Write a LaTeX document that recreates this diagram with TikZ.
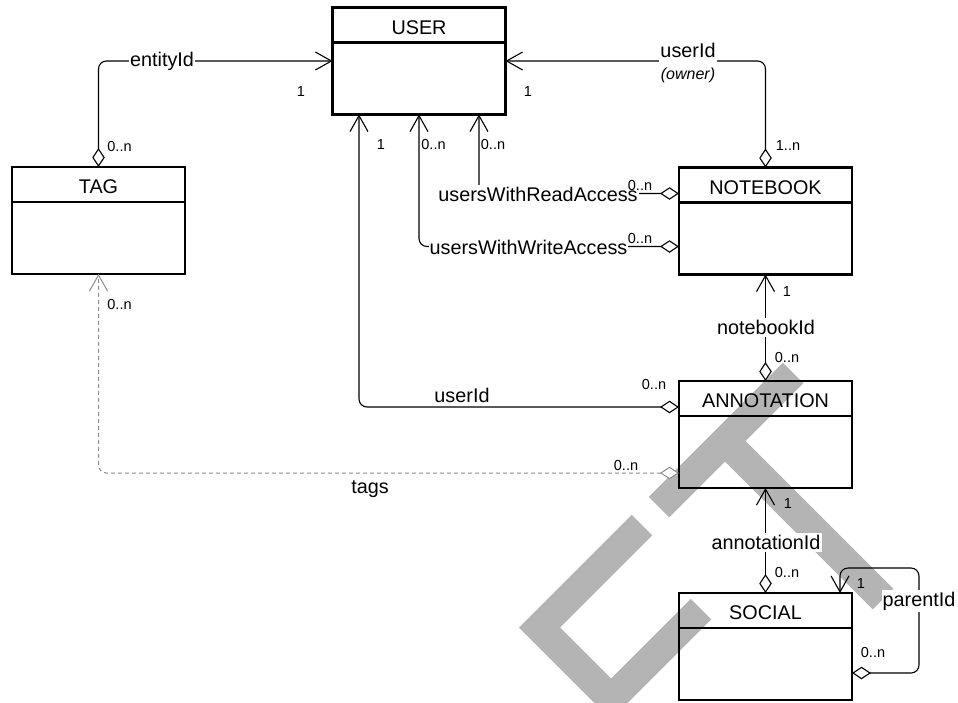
\documentclass[tikz,border=0pt]{standalone}
\usepackage{fontspec}
\setmainfont{Liberation Sans}
\usetikzlibrary{arrows.meta,calc}

\definecolor{stampgray}{RGB}{180,180,180}
\definecolor{dashgray}{RGB}{140,140,140}

\tikzset{
  entity/.style={draw=black, line width=2.4pt, minimum width=173pt,
    minimum height=107pt, outer sep=0pt, inner sep=0pt},
  divider/.style={draw=black, line width=2.2pt},
  title/.style={font=\fontsize{19.8}{22}\selectfont, inner sep=0pt},
  lbl/.style={font=\fontsize{19.8}{22}\selectfont, fill=white,
    inner xsep=1pt, inner ysep=2pt},
  plainlbl/.style={font=\fontsize{19.8}{22}\selectfont, inner sep=0pt},
  mult/.style={font=\fontsize{14.5}{16}\selectfont, inner sep=0pt},
  assoc/.style={draw=black, line width=1.1pt, rounded corners=8pt,
    {Diamond[fill=white,length=19pt,width=12.5pt]}-{Straight Barb[length=16pt,width=18pt]}},
  weakassoc/.style={assoc, draw=dashgray, line width=1pt,
    dash pattern=on 4pt off 3pt},
  stamp/.style={draw=stampgray, line width=29pt, line cap=butt, line join=miter}
}

\begin{document}
\begin{tikzpicture}[x=1pt,y=-1pt]
\useasboundingbox (0,0) rectangle (958,702);

% grey stamp letters behind the diagram
\begin{scope}
  \clip (0,0) rectangle (958,702);
  \draw[stamp] (793,373) -- (659,507);
  \draw[stamp] (725,441) -- (883,599);
  \draw[stamp] (642,525) -- (539.5,627.5) -- (611,699) -- (701,609);
\end{scope}

% entities
\node[entity] (user)       at (419,61)      {};
\node[entity] (tag)        at (98.5,220.5)  {};
\node[entity] (notebook)   at (765.5,221)   {};
\node[entity] (annotation) at (765.5,434.5) {};
\node[entity] (social)     at (765.5,646.5) {};

\foreach \n/\t in {user/USER, tag/TAG, notebook/NOTEBOOK,
                   annotation/ANNOTATION, social/SOCIAL}{
  \draw[divider] ($(\n.north west)+(0,35)$) -- ($(\n.north east)+(0,35)$);
  \node[title] (\n-title) at ($(\n.north)+(0,20)$) {\t};
}

% anchor points on the entity borders
\coordinate (nbread)  at ($(notebook.north west)+(0,26)$);
\coordinate (nbwrite) at ($(notebook.north west)+(0,79)$);
\coordinate (anuser)  at ($(annotation.north west)+(0,26)$);
\coordinate (antags)  at ($(annotation.north west)+(0,92)$);
\coordinate (usrleft) at ($(user.south)+(-60,0)$);
\coordinate (usrright) at ($(user.south)+(60,0)$);
\coordinate (soself)  at ($(social.north east)+(0,80)$);
\coordinate (loopcorner) at ($(social.north east)+(67,-25)$);
\coordinate (soparent) at ($(social.north east)+(-12,0)$);

% associations
\draw[assoc] (tag.north) |- (user.west);
\draw[assoc] (notebook.north) |- (user.east);
\draw[assoc] (anuser) -| (usrleft);
\draw[assoc] (nbread) -| (usrright);
\draw[assoc] (nbwrite) -| (user.south);
\draw[assoc] (annotation.north) -- (notebook.south);
\draw[assoc] (social.north) -- (annotation.south);
\draw[weakassoc] (antags) -| (tag.south);
\draw[assoc] (soself) -| (loopcorner) -| (soparent);

% association labels
\node[lbl] (l-entity) at (162,61) {entityId};
\node[lbl, anchor=base, inner ysep=5.5pt] (l-owner) at (688,57) {userId};
\node[font=\itshape\fontsize{16}{18}\selectfont, inner sep=0pt, anchor=base]
  (l-ownernote) at (688,79) {(owner)};
\node[plainlbl, anchor=base] (l-annuser) at (462,402) {userId};
\node[lbl] (l-read)  at (538,194)   {usersWithReadAccess};
\node[lbl] (l-write) at (528.5,247) {usersWithWriteAccess};
\node[lbl] (l-nb)    at (766,327.5) {notebookId};
\node[lbl] (l-ann)   at (766,542.5) {annotationId};
\node[lbl] (l-par)   at (919,601)   {parentId};
\node[plainlbl, anchor=base] (l-tags) at (370,493) {tags};

% multiplicities
\node[mult] (m1)  at (301,92)    {1};
\node[mult] (m2)  at (119.5,147) {0..n};
\node[mult] (m3)  at (528,92)    {1};
\node[mult] (m4)  at (788,145.5) {1..n};
\node[mult] (m5)  at (381,145)   {1};
\node[mult] (m6)  at (433.5,145) {0..n};
\node[mult] (m7)  at (493,145)   {0..n};
\node[mult] (m8)  at (640,186)   {0..n};
\node[mult] (m9)  at (640,239)   {0..n};
\node[mult] (m10) at (787,292)   {1};
\node[mult] (m11) at (787,358)   {0..n};
\node[mult] (m12) at (654,385)   {0..n};
\node[mult] (m13) at (119.5,305) {0..n};
\node[mult] (m14) at (626,465)   {0..n};
\node[mult] (m15) at (788,504)   {1};
\node[mult] (m16) at (787,572)   {0..n};
\node[mult] (m17) at (861,584)   {1};
\node[mult] (m18) at (873,652)   {0..n};
\end{tikzpicture}
\end{document}
